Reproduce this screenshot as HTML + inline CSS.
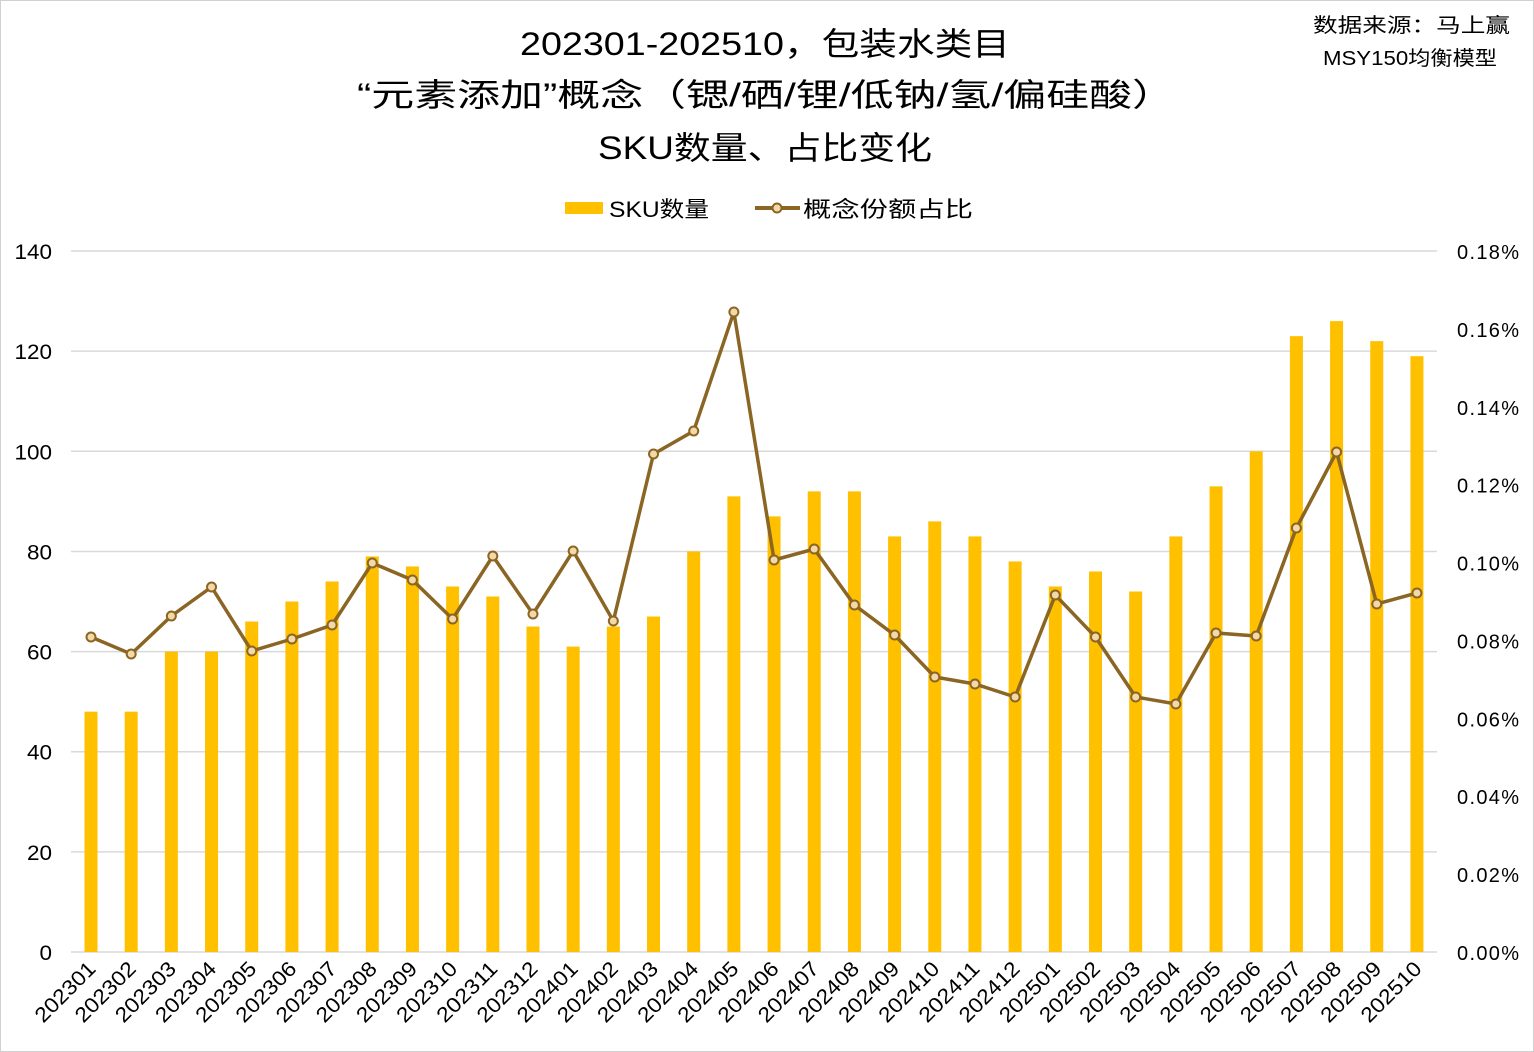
<!DOCTYPE html>
<html><head><meta charset="utf-8"><style>
html,body{margin:0;padding:0;background:#fff}
svg{display:block}
text{font-family:"Liberation Sans","Noto Sans CJK SC",sans-serif;fill:#000}
</style></head><body>
<svg width="1534" height="1052" xmlns="http://www.w3.org/2000/svg">
<rect x="0.5" y="0.5" width="1533" height="1051" fill="#fff" stroke="#d0d0d0"/>
<text x="520" y="55" font-size="32" textLength="490" lengthAdjust="spacingAndGlyphs">202301-202510，包装水类目</text>
<text x="357" y="106" font-size="32" textLength="818" lengthAdjust="spacingAndGlyphs">“元素添加”概念（锶/硒/锂/低钠/氢/偏硅酸）</text>
<text x="598" y="159" font-size="32" textLength="334" lengthAdjust="spacingAndGlyphs">SKU数量、占比变化</text>
<text x="1313" y="32" font-size="20" textLength="197" lengthAdjust="spacingAndGlyphs">数据来源：马上赢</text>
<text x="1323" y="65" font-size="20" textLength="174" lengthAdjust="spacingAndGlyphs">MSY150均衡模型</text>
<rect x="565" y="202" width="38" height="12" fill="#FFC000"/>
<text x="609" y="217" font-size="22" textLength="100" lengthAdjust="spacingAndGlyphs">SKU数量</text>
<line x1="755" y1="208" x2="800" y2="208" stroke="#8B6523" stroke-width="4"/>
<circle cx="777" cy="208" r="4.5" fill="#F3D9A8" stroke="#8B6523" stroke-width="2"/>
<text x="803" y="217" font-size="22" textLength="170" lengthAdjust="spacingAndGlyphs">概念份额占比</text>
<g id="grid" stroke="#d9d9d9" stroke-width="1.5"></g>
<g id="yl"></g><g id="bars" fill="#FFC000"></g><g id="xl"></g><g id="line"></g>
</svg>
<script>
var NS="http://www.w3.org/2000/svg";
function el(t,a,p,txt){var e=document.createElementNS(NS,t);for(var k in a)e.setAttribute(k,a[k]);if(txt!=null)e.textContent=txt;document.getElementById(p).appendChild(e);return e;}
var y0=952,ppu=5.007;
for(var i=0;i<=7;i++){var y=y0-i*20*ppu;el('line',{x1:71,x2:1437,y1:y,y2:y},'grid');
var s=String(i*20);el('text',{x:52-s.length*12.5,y:y+8,'font-size':21,textLength:s.length*12.5,lengthAdjust:'spacingAndGlyphs'},'yl',s);}
for(var i=0;i<=9;i++){var y=y0-i*701/9;el('text',{x:1457,y:y+8,'font-size':20,textLength:62,lengthAdjust:'spacing'},'yl',(i*0.02).toFixed(2)+'%');}
var b=[48,48,60,60,66,70,74,79,77,73,71,65,61,65,67,80,91,87,92,92,83,86,83,78,73,76,72,83,93,100,123,126,122,119];
var ly=[637,654,616,587,651,639,625,563,580,619,556,614,551,621,454,431,312,560,549,605,635,677,684,697,595,637,697,704,633,636,528,452,604,593];
var pts=[];
for(var i=0;i<34;i++){var x=91+i*40.18;var h=b[i]*ppu;
el('rect',{x:x-6.5,y:y0-h,width:13,height:h},'bars');
var yr=2023+Math.floor(i/12),m=i%12+1;var lab=yr+(m<10?'0':'')+m;
el('text',{x:x+6,y:970,'font-size':21,'text-anchor':'end',textLength:76,lengthAdjust:'spacingAndGlyphs',transform:'rotate(-45 '+(x+6)+' 970)'},'xl',lab);
pts.push(x+','+ly[i]);}
el('polyline',{points:pts.join(' '),fill:'none',stroke:'#8B6523','stroke-width':3.5},'line');
for(var i=0;i<34;i++){el('circle',{cx:91+i*40.18,cy:ly[i],r:4.5,fill:'#F3D9A8',stroke:'#8B6523','stroke-width':2},'line');}
</script>
</body></html>
